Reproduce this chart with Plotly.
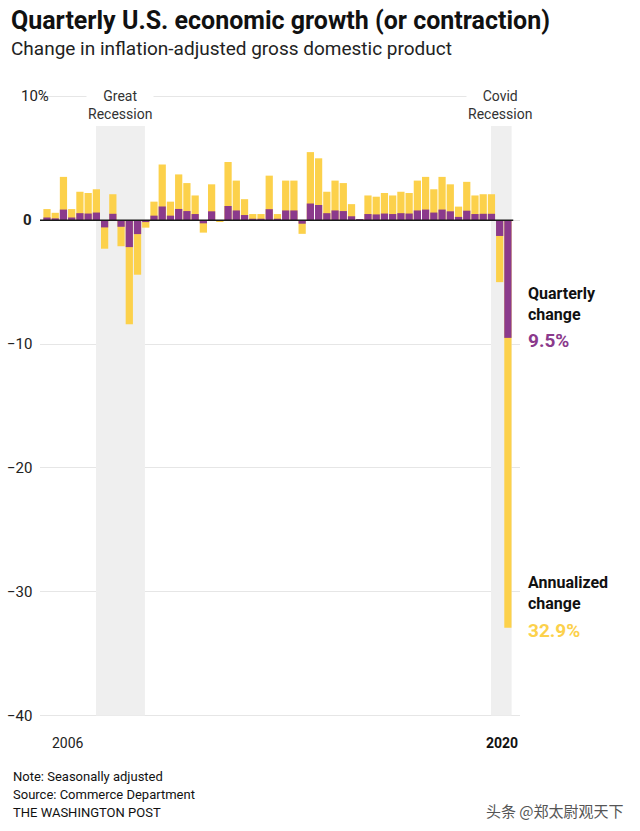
import plotly.graph_objects as go

# Quarters 2006 Q2 .. 2020 Q2
quarters = [f"{y} Q{q}" for y in range(2006, 2021) for q in range(1, 5)][1:58]

annualized = [0.9, 0.6, 3.5,
              0.9, 2.3, 2.2, 2.5,
              -2.3, 2.1, -2.1, -8.4,
              -4.4, -0.6, 1.5, 4.5,
              1.5, 3.7, 3.0, 2.0,
              -1.0, 2.9, -0.1, 4.7,
              3.2, 1.7, 0.5, 0.5,
              3.6, 0.5, 3.2, 3.2,
              -1.1, 5.5, 5.0, 2.3,
              3.2, 3.0, 1.3, 0.1,
              2.0, 1.9, 2.2, 2.0,
              2.3, 2.2, 3.2, 3.5,
              2.5, 3.5, 2.9, 1.1,
              3.1, 2.0, 2.1, 2.1,
              -5.0, -32.9]

quarterly = [0.22, 0.15, 0.86,
             0.22, 0.57, 0.54, 0.62,
             -0.58, 0.52, -0.53, -2.17,
             -1.12, -0.15, 0.37, 1.11,
             0.37, 0.91, 0.74, 0.50,
             -0.25, 0.72, -0.03, 1.15,
             0.79, 0.42, 0.12, 0.12,
             0.89, 0.12, 0.79, 0.79,
             -0.28, 1.35, 1.23, 0.57,
             0.79, 0.74, 0.32, 0.02,
             0.50, 0.47, 0.54, 0.50,
             0.57, 0.54, 0.79, 0.86,
             0.62, 0.86, 0.72, 0.27,
             0.77, 0.50, 0.52, 0.52,
             -1.27, -9.5]

y_ticks = [10, 0, -10, -20, -30, -40]
y_tick_labels = ["10%", "<b>0</b>", "\u221210", "\u221220", "\u221230", "\u221240"]

YELLOW = "#FCD14B"
PURPLE = "#8B3A8C"
FONT = "Roboto, Arial, sans-serif"

W, H = 640, 831
L, R, T, B = 40, 120, 84, 103
PW, PH = W - L - R, H - T - B

def px(x):
    return (x - L) / PW

def py(y):
    return 1 - (y - T) / PH

idx = list(range(len(quarters)))

fig = go.Figure()
fig.add_trace(go.Bar(x=idx, y=annualized, marker=dict(color=YELLOW, line=dict(width=0)),
                     width=0.88, name="Annualized change", hovertext=quarters))
fig.add_trace(go.Bar(x=idx, y=quarterly, marker=dict(color=PURPLE, line=dict(width=0)),
                     width=0.88, name="Quarterly change", hovertext=quarters))

shapes = []
# recession shading
shapes.append(dict(type="rect", xref="x", yref="y", x0=5.95, x1=11.9, y0=-40, y1=7.6,
                   fillcolor="#EFEFEF", line=dict(width=0), layer="between"))
shapes.append(dict(type="rect", xref="x", yref="y", x0=53.95, x1=56.45, y0=-40, y1=7.6,
                   fillcolor="#EFEFEF", line=dict(width=0), layer="between"))
# zero line
shapes.append(dict(type="line", xref="x", yref="y", x0=-0.85, x1=56.65, y0=0, y1=0,
                   line=dict(color="#1a1a1a", width=1.6), layer="above"))

annotations = []
for v, lab in zip(y_ticks, y_tick_labels):
    if v == 10:
        annotations.append(dict(x=px(19), xref="paper", y=v, yref="y", text=lab,
                                xanchor="left", yanchor="middle", showarrow=False,
                                font=dict(family=FONT, size=15, color="#222")))
    else:
        annotations.append(dict(x=px(34), xref="paper", y=v, yref="y", text=lab,
                                xanchor="right", yanchor="middle", showarrow=False,
                                font=dict(family=FONT, size=15, color="#222")))

# recession labels
annotations.append(dict(x=8.87, xref="x", y=py(105), yref="paper",
                        text="Great<br>Recession", showarrow=False, align="center",
                        bgcolor="white", xanchor="center", yanchor="middle",
                        font=dict(family=FONT, size=14, color="#333")))
annotations.append(dict(x=55.0, xref="x", y=py(105), yref="paper",
                        text="Covid<br>Recession", showarrow=False, align="center",
                        bgcolor="white", xanchor="center", yanchor="middle",
                        font=dict(family=FONT, size=14, color="#333")))

# year labels
annotations.append(dict(x=2.5, xref="x", y=py(743), yref="paper", text="2006",
                        showarrow=False, xanchor="center", yanchor="middle",
                        font=dict(family=FONT, size=14, color="#222")))
annotations.append(dict(x=55.3, xref="x", y=py(743), yref="paper", text="<b>2020</b>",
                        showarrow=False, xanchor="center", yanchor="middle",
                        font=dict(family=FONT, size=14, color="#111")))

# right-side labels
annotations.append(dict(x=px(526), xref="paper", y=py(304), yref="paper",
                        text="<b>Quarterly<br>change</b>", showarrow=False, align="left",
                        xanchor="left", yanchor="middle",
                        font=dict(family=FONT, size=16, color="#111")))
annotations.append(dict(x=px(526), xref="paper", y=py(340), yref="paper",
                        text="<b>9.5%</b>", showarrow=False, xanchor="left", yanchor="middle",
                        font=dict(family=FONT, size=19, color=PURPLE)))
annotations.append(dict(x=px(526), xref="paper", y=py(593), yref="paper",
                        text="<b>Annualized<br>change</b>", showarrow=False, align="left",
                        xanchor="left", yanchor="middle",
                        font=dict(family=FONT, size=16, color="#111")))
annotations.append(dict(x=px(526), xref="paper", y=py(630), yref="paper",
                        text="<b>32.9%</b>", showarrow=False, xanchor="left", yanchor="middle",
                        font=dict(family=FONT, size=19, color=YELLOW)))

# title / subtitle
annotations.append(dict(x=px(9), xref="paper", y=py(20), yref="paper",
                        text="<b>Quarterly U.S. economic growth (or contraction)</b>",
                        showarrow=False, xanchor="left", yanchor="middle",
                        font=dict(family=FONT, size=25, color="#111")))
annotations.append(dict(x=px(9), xref="paper", y=py(49), yref="paper",
                        text="Change in inflation-adjusted gross domestic product",
                        showarrow=False, xanchor="left", yanchor="middle",
                        font=dict(family=FONT, size=19, color="#222")))

# footer
for yy, txt in [(776, "Note: Seasonally adjusted"), (794, "Source: Commerce Department"),
                (812, "THE WASHINGTON POST")]:
    annotations.append(dict(x=px(11), xref="paper", y=py(yy), yref="paper", text=txt,
                            showarrow=False, xanchor="left", yanchor="middle",
                            font=dict(family=FONT, size=13, color="#111")))
annotations.append(dict(x=px(626), xref="paper", y=py(810), yref="paper",
                        text="头条 @郑太尉观天下", showarrow=False, xanchor="right",
                        yanchor="middle",
                        font=dict(family="Noto Sans CJK SC", size=15, color="#555")))

fig.update_layout(
    width=W, height=H,
    margin=dict(l=L, r=R, t=T, b=B, pad=0),
    paper_bgcolor="white", plot_bgcolor="white",
    barmode="overlay", showlegend=False,
    xaxis=dict(range=[-0.85, 57.47], showgrid=False, zeroline=False, showticklabels=False,
               ticks="", fixedrange=True),
    yaxis=dict(range=[-41, 11], tickvals=y_ticks, showticklabels=False, ticks="",
               showgrid=True, gridcolor="#E6E6E6", gridwidth=1, zeroline=False),
    shapes=shapes, annotations=annotations,
    font=dict(family=FONT),
)

fig.write_html("out.html")
